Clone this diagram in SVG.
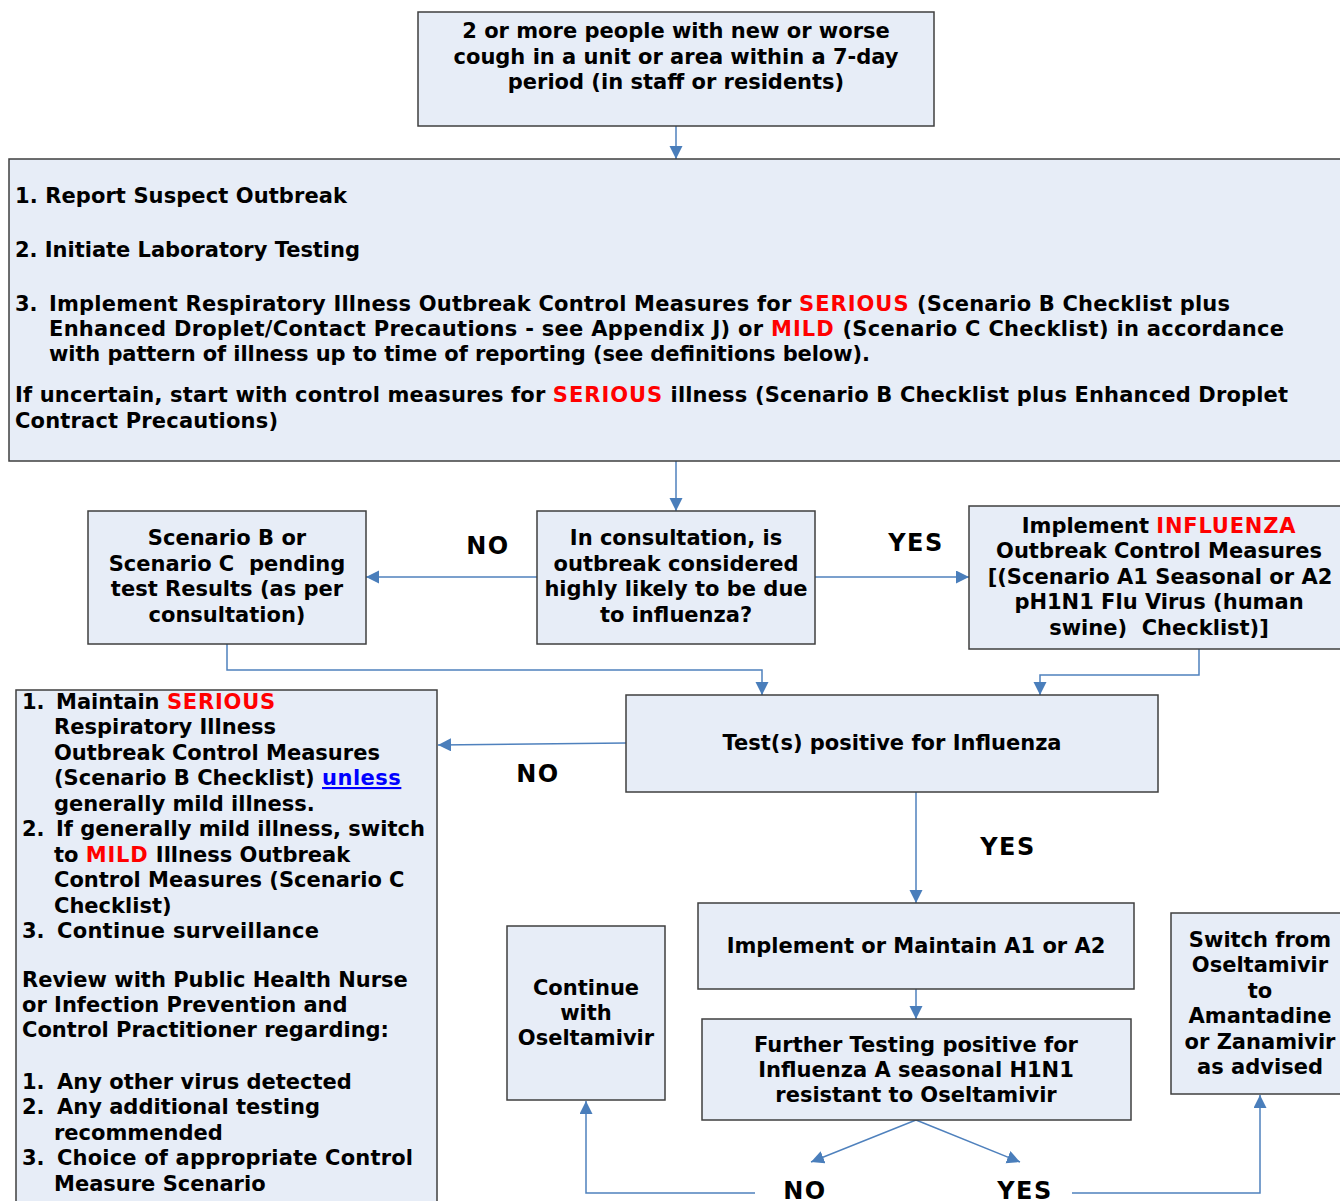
<svg xmlns="http://www.w3.org/2000/svg" width="1340" height="1201" viewBox="0 0 1340 1201">
<style>
.box{fill:#e7edf7;stroke:#3f3f3f;stroke-width:1.5}
.t{font-family:"DejaVu Sans","Verdana",sans-serif;font-weight:bold;font-size:21px;fill:#000}
.c{text-anchor:middle}
.lbl{font-family:"DejaVu Sans","Verdana",sans-serif;font-weight:bold;font-size:24px;letter-spacing:1.5px;fill:#000;text-anchor:middle}
.red{fill:#ff0000;letter-spacing:0.8px}
.link{fill:#0000ff;text-decoration:underline;letter-spacing:0.5px}
.conn{stroke:#4f81bd;stroke-width:1.5;fill:none}
</style>
<defs>
<marker id="ah" markerUnits="userSpaceOnUse" markerWidth="14" markerHeight="14" refX="13" refY="6.5" orient="auto">
<path d="M0,0 L13,6.5 L0,13 z" fill="#4a7ebb"/>
</marker>
</defs>
<rect width="1340" height="1201" fill="#fff"/>

<g id="connectors" class="conn" marker-end="url(#ah)">
<path d="M676,126 V159"/>
<path d="M676,461 V511"/>
<path d="M537,577 H366"/>
<path d="M815,577 H969"/>
<path d="M227,644 V670 H762 V695"/>
<path d="M1199,649 V675 H1040 V695"/>
<path d="M626,743 L438,745"/>
<path d="M916,792 V903"/>
<path d="M916,989 V1019"/>
<path d="M916,1120 L811,1162"/>
<path d="M916,1120 L1020,1162"/>
<path d="M755,1193 H586 V1101"/>
<path d="M1072,1193 H1260 V1095"/>
</g>

<g id="start">
<rect class="box" x="418" y="12" width="516" height="114"/>
<text class="t c" x="676" y="38">2 or more people with new or worse</text>
<text class="t c" x="676" y="64">cough in a unit or area within a 7-day</text>
<text class="t c" x="676" y="89">period (in staff or residents)</text>
</g>

<g id="actions">
<rect class="box" x="9" y="159" width="1345" height="302"/>
<text class="t" x="15" y="203" textLength="332">1. Report Suspect Outbreak</text>
<text class="t" x="15" y="257" textLength="345">2. Initiate Laboratory Testing</text>
<text class="t" x="15" y="311">3.</text>
<text class="t" x="49" y="311" textLength="1181">Implement Respiratory Illness Outbreak Control Measures for <tspan class="red">SERIOUS</tspan> (Scenario B Checklist plus</text>
<text class="t" x="49" y="336" textLength="1235">Enhanced Droplet/Contact Precautions - see Appendix J) or <tspan class="red">MILD</tspan> (Scenario C Checklist) in accordance</text>
<text class="t" x="49" y="361" textLength="821">with pattern of illness up to time of reporting (see definitions below).</text>
<text class="t" x="15" y="402" textLength="1273">If uncertain, start with control measures for <tspan class="red">SERIOUS</tspan> illness (Scenario B Checklist plus Enhanced Droplet</text>
<text class="t" x="15" y="428" textLength="263">Contract Precautions)</text>
</g>

<g id="pending">
<rect class="box" x="88" y="511" width="278" height="133"/>
<text class="t c" x="227" y="545">Scenario B or</text>
<text class="t c" x="227" y="570.5" xml:space="preserve">Scenario C  pending</text>
<text class="t c" x="227" y="596">test Results (as per</text>
<text class="t c" x="227" y="621.5">consultation)</text>
</g>

<g id="consult">
<rect class="box" x="537" y="511" width="278" height="133"/>
<text class="t c" x="676" y="545">In consultation, is</text>
<text class="t c" x="676" y="570.5">outbreak considered</text>
<text class="t c" x="676" y="596">highly likely to be due</text>
<text class="t c" x="676" y="621.5">to influenza?</text>
</g>

<g id="influenza">
<rect class="box" x="969" y="506" width="381" height="143"/>
<text class="t c" x="1159" y="532.5">Implement <tspan class="red">INFLUENZA</tspan></text>
<text class="t c" x="1159" y="558">Outbreak Control Measures</text>
<text class="t c" x="1160" y="583.5">[(Scenario A1 Seasonal or A2</text>
<text class="t c" x="1159" y="609">pH1N1 Flu Virus (human</text>
<text class="t c" x="1159" y="634.5" xml:space="preserve">swine)  Checklist)]</text>
</g>

<g id="test">
<rect class="box" x="626" y="695" width="532" height="97"/>
<text class="t c" x="892" y="750">Test(s) positive for Influenza</text>
</g>

<g id="maintain">
<rect class="box" x="16" y="690" width="421" height="520"/>
<text class="t" x="22" y="708.5">1.</text>
<text class="t" x="56" y="708.5">Maintain <tspan class="red">SERIOUS</tspan></text>
<text class="t" x="54" y="734">Respiratory Illness</text>
<text class="t" x="54" y="759.5">Outbreak Control Measures</text>
<text class="t" x="54" y="785">(Scenario B Checklist) <tspan class="link">unless</tspan></text>
<text class="t" x="54" y="810.5">generally mild illness.</text>
<text class="t" x="22" y="836">2.</text>
<text class="t" x="56" y="836">If generally mild illness, switch</text>
<text class="t" x="54" y="861.5">to <tspan class="red">MILD</tspan> Illness Outbreak</text>
<text class="t" x="54" y="887">Control Measures (Scenario C</text>
<text class="t" x="54" y="912.5">Checklist)</text>
<text class="t" x="22" y="938">3.</text>
<text class="t" x="57" y="938" textLength="262">Continue surveillance</text>
<text class="t" x="22" y="987">Review with Public Health Nurse</text>
<text class="t" x="22" y="1012">or Infection Prevention and</text>
<text class="t" x="22" y="1037">Control Practitioner regarding:</text>
<text class="t" x="22" y="1088.5">1.</text>
<text class="t" x="57" y="1088.5">Any other virus detected</text>
<text class="t" x="22" y="1114">2.</text>
<text class="t" x="57" y="1114">Any additional testing</text>
<text class="t" x="54" y="1139.5">recommended</text>
<text class="t" x="22" y="1165">3.</text>
<text class="t" x="57" y="1165" textLength="356">Choice of appropriate Control</text>
<text class="t" x="54" y="1190.5">Measure Scenario</text>
</g>

<g id="implement">
<rect class="box" x="698" y="903" width="436" height="86"/>
<text class="t c" x="916" y="952.5">Implement or Maintain A1 or A2</text>
</g>

<g id="further">
<rect class="box" x="702" y="1019" width="429" height="101"/>
<text class="t c" x="916" y="1051.5">Further Testing positive for</text>
<text class="t c" x="916" y="1077">Influenza A seasonal H1N1</text>
<text class="t c" x="916" y="1102">resistant to Oseltamivir</text>
</g>

<g id="continue">
<rect class="box" x="507" y="926" width="158" height="174"/>
<text class="t c" x="586" y="995">Continue</text>
<text class="t c" x="586" y="1020">with</text>
<text class="t c" x="586" y="1045">Oseltamivir</text>
</g>

<g id="switch">
<rect class="box" x="1171" y="913" width="180" height="181"/>
<text class="t c" x="1260" y="946.5">Switch from</text>
<text class="t c" x="1260" y="972">Oseltamivir</text>
<text class="t c" x="1260" y="997.5">to</text>
<text class="t c" x="1260" y="1023">Amantadine</text>
<text class="t c" x="1260" y="1048.5">or Zanamivir</text>
<text class="t c" x="1260" y="1074">as advised</text>
</g>

<g id="labels">
<text class="lbl" x="488" y="554">NO</text>
<text class="lbl" x="916" y="551">YES</text>
<text class="lbl" x="538" y="782">NO</text>
<text class="lbl" x="1008" y="855">YES</text>
<text class="lbl" x="805" y="1199">NO</text>
<text class="lbl" x="1025" y="1199">YES</text>
</g>
</svg>
